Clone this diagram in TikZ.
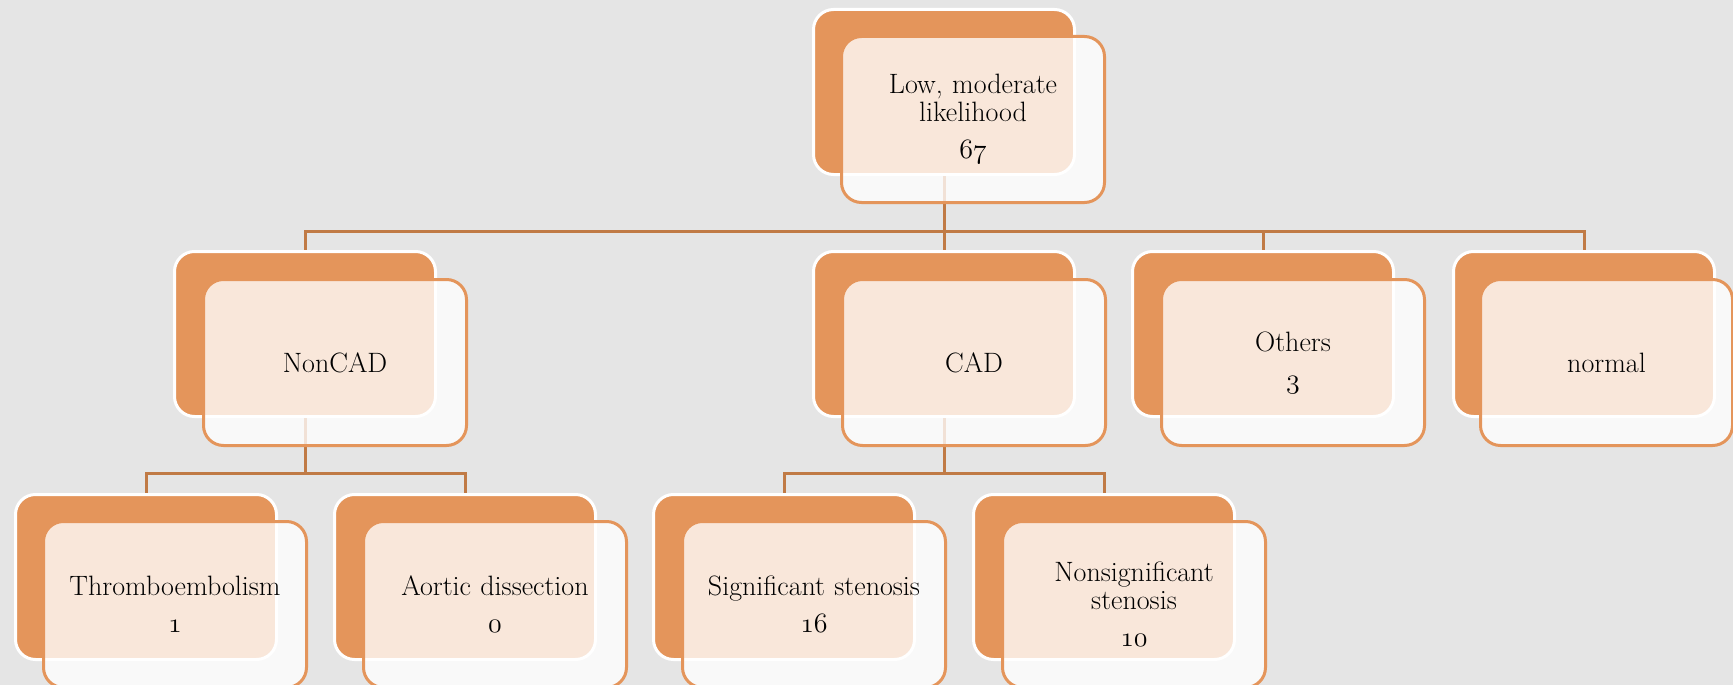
\documentclass[tikz,border=0pt]{standalone}
\usepackage{fix-cm}
\definecolor{cardorange}{HTML}{E4955B}
\definecolor{linkbrown}{HTML}{C07A45}
\definecolor{pagegray}{HTML}{E5E5E5}
\newcommand\cardfont{\fontsize{28}{28}\selectfont}
\newcommand\osf[1]{{\usefont{OML}{cmm}{m}{it}#1}}
\begin{document}
\begin{tikzpicture}[x=1pt,y=-1pt,
  backbox/.style={draw=white, line width=3pt, fill=cardorange, rounded corners=20pt,
    minimum width=261pt, minimum height=165pt, inner sep=0pt, anchor=north west},
  frontbox/.style={draw=cardorange, line width=3pt, fill=white, fill opacity=0.78,
    text opacity=1, rounded corners=20pt, minimum width=263pt, minimum height=166pt,
    inner sep=0pt, anchor=north west, text width=255pt, align=center, font=\cardfont},
  conn/.style={draw=linkbrown, line width=3pt}]
\useasboundingbox (0,0) rectangle (1733,685);
\fill[pagegray] (0,0) rectangle (1733,685);

% back cards
\node[backbox] (top)     at (812,8)   {};
\node[backbox] (noncad)  at (173,250) {};
\node[backbox] (cad)     at (812,250) {};
\node[backbox] (others)  at (1131,250) {};
\node[backbox] (normal)  at (1452,250) {};
\node[backbox] (thrombo) at (14,493)  {};
\node[backbox] (aortic)  at (333,493) {};
\node[backbox] (sig)     at (652,493) {};
\node[backbox] (nonsig)  at (972,493) {};

% tree connectors
\foreach \child in {noncad,cad,others,normal}
  \draw[conn] (top.south) -- ++(0,55) -| (\child.north);
\foreach \child in {thrombo,aortic}
  \draw[conn] (noncad.south) -- ++(0,55) -| (\child.north);
\foreach \child in {sig,nonsig}
  \draw[conn] (cad.south) -- ++(0,55) -| (\child.north);

% front cards with the labels
\node[frontbox] (top-f)     at (840,35)   {Low, moderate\\likelihood\\[9pt]\osf{67}};
\node[frontbox] (noncad-f)  at (202,278)  {NonCAD};
\node[frontbox] (cad-f)     at (841,278)  {CAD};
\node[frontbox] (others-f)  at (1160,278) {Others\\[9pt]\osf{3}};
\node[frontbox, minimum width=252pt, text width=245pt] (normal-f) at (1479,278) {normal};
\node[frontbox] (thrombo-f) at (42,520)   {Thromboembolism\\[9pt]\osf{1}};
\node[frontbox] (aortic-f)  at (362,520)  {Aortic dissection\\[9pt]\osf{0}};
\node[frontbox] (sig-f)     at (681,520)  {Significant stenosis\\[9pt]\osf{16}};
\node[frontbox] (nonsig-f)  at (1001,520) {Nonsignificant\\stenosis\\[9pt]\osf{10}};
\end{tikzpicture}
\end{document}
